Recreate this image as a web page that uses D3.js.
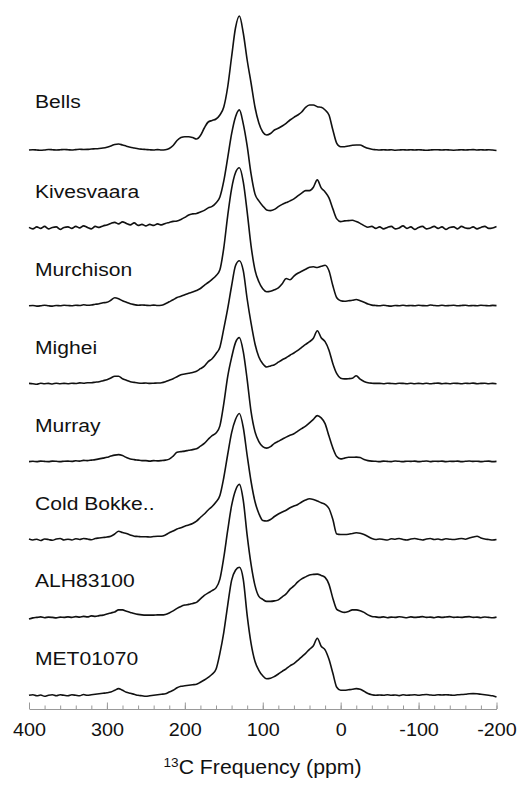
<!DOCTYPE html>
<html>
<head>
<meta charset="utf-8">
<script src="https://cdn.jsdelivr.net/npm/d3@7"></script>
<style>
  html, body { margin: 0; padding: 0; background: #fff; }
  svg { display: block; }
  text { font-family: "Liberation Sans", Arial, Helvetica, sans-serif; fill: #111; }
</style>
</head>
<body>
<svg id="chart" width="519" height="786"></svg>
<script>
// ---- Data (chemical shift grid in ppm, 400 → -200 every 5 ppm) ----
const ppm = d3.range(400, -205, -5);

const sampleNames = ["Bells", "Kivesvaara", "Murchison", "Mighei", "Murray", "Cold Bokke..", "ALH83100", "MET01070"];

const bells = [
0,0.3,0,-0.3,0,0.5,0.3,0,0.2,0.5,
0.3,0,0.4,0.8,0.5,0.6,1,1.2,1.5,2,
2.8,4,5.5,6,5,3.8,2.8,2,1.2,0.8,
0.5,0.2,0,0.4,0,0.3,1.5,4.5,9.5,12.5,
13.3,13.3,12.5,11,14.5,22,28,29.5,31,35,
43,63,93,122,134,117,90,67,43,27,
18,15,16.5,20,21.7,24,26.7,30,32.7,35,
38,42.7,45,45,43.3,42.7,40,35,20,6.7,
3.3,3.3,4,4.7,5,5,3.3,1.7,0.7,0.3,
0,0.3,0,0.2,-0.2,0,0.3,0,0.2,0,
0.3,0,-0.3,0,0.3,0.2,0,0.3,0,-0.2,
0,0.3,0,0.2,0.4,0,0.2,0,0.3,0,
-0.5];

const kivesvaara = [
0.5,-1,1,-0.5,1.5,-1,0.5,1,-1.5,0.5,
1,-0.5,1.5,0,2,0.5,-1,1.5,0.5,2,
3,4.5,5.5,4,6,4.5,3,5,2.5,3.5,
2,3.5,2.5,4,3,4.5,5.5,6.5,7,8.5,
10.5,13,14,14.5,16,17.5,20,21.5,25,31,
47,70,94,111,118,104,82,54,34,27,
22,18,17.3,18.5,21.2,23.5,25.3,27,29,32,
34.8,37.3,37.3,40.7,48,40,36,30,19,9,
6.3,7,7.3,7.7,6.3,4.5,2.3,0.7,1.5,-0.5,
1,-1,0.5,1.5,-1,0,2,-0.5,1,-1.5,
0.5,1.5,-1,0,1.5,-0.5,1,-1.5,0.5,1,
-1,1.5,0,-0.5,1,-1,0.5,1.5,-0.5,0,
1.5];

const murchison = [
0,0.3,-0.3,0,0.5,0,-0.3,0.3,0,0.5,
0.3,0,0.5,0.3,1,0.5,0.8,1.5,2,3,
3.5,5.5,8,7,5,3.5,2,1.2,0.5,0.8,
0.5,0.3,0.7,0.3,0.5,2,4,6,8.3,9.5,
11,12.5,13.7,15.3,17.3,20.5,23.3,26.5,30,36,
58,90,117,133,138,124,94,60,36,24,
17,14,14.5,16,18,22,27.3,26,29.7,32.5,
34.5,36.5,38.5,39,38.3,39.5,40.5,35,20,8,
5,4.5,5,5.5,6.3,5,3.5,1.7,0.7,0.3,
0,0.5,0,-0.3,0.3,0,0.5,0,0.3,0,
0.5,0.2,0,0.8,0.3,0,0.5,0,0.3,0.5,
0,0.3,0.6,0,0.3,0,0.5,0.3,0,0.4,
0.2];

const mighei = [
0.3,0,-0.5,0.5,0,0.3,-0.3,0.5,0,0.3,
0,0.5,0.2,0.8,0.5,1,1,1.5,2,3,
4,5.7,7.5,7.5,5,3.5,2,1.3,0.7,0.5,
0.7,0.3,0.5,0.7,1,2,3.5,5,7,9,
9.7,10.5,11.3,12.5,15,17.5,22,25,30,36.5,
55,75,97.7,118,123,113,84.7,60.6,40,26.7,
20,16.7,17.8,19,21.5,24,26,28.5,30.7,33.3,
36.3,39.3,42,45.5,53,46,42,33.5,20,10,
5.5,4.8,5,5.5,8,4.5,2.3,1,0.5,0.3,
0.3,0,0.5,0.2,0,0.5,0.3,0,0.4,0,
0.3,0,0.5,0,0.3,0.6,0,0.3,0,0.5,
0.3,0,0.4,0.2,0.6,0,0.3,0.5,0,0.3,
0];

const murray = [
0,0.3,0,0.5,0.2,0,0.5,0.3,0,0.4,
0.5,0.2,0.8,0.5,1.2,1,1.5,2,2.7,3.5,
4.3,5.5,6.5,7,6,4,2.7,2,1.5,1,
1,0.5,1,0.7,1,1.5,2.5,5.5,9.3,10,
10.5,11.3,12,12.8,15.5,18.3,22.3,26,28.5,35.7,
58,85,104,119,124,110,82,50,30,20,
15,13.5,15,18.3,20.3,22.3,24.5,26.3,27.8,30.5,
33,35.5,38.8,42.3,46,43.7,38,25.5,13.5,5,
2.7,3.5,4.3,4.3,4.5,4,2,1,0.5,0.3,
0,0.5,0.2,0,0.6,0.3,0,0.4,0.2,0.5,
0,0.3,0.6,0,0.4,0.2,0.5,0,0.3,0.2,
0.5,0,0.3,0.6,0.2,0.4,0,0.3,0.5,0,
0.2];

const coldBokkeveld = [
0.5,-0.5,0.3,-1,0.5,0,-0.8,0.5,1,-0.5,
0.3,-0.5,0.8,0,1,0.5,-0.3,1,1.5,2,
2.5,3.3,5.5,8.3,7,6,4.5,3.3,3,2.7,
2.7,2.5,3,3.3,3.3,4.5,6.7,8.5,10.5,11.7,
13.3,14.5,16,18.3,22,25.5,29.5,33,37.5,44,
62,85,106.7,120,126,112,84,58,38,26,
19,18.5,20,23,25.5,27.5,29.3,31.7,33.5,35,
37.5,39.5,40.7,40,38.5,36.7,35.2,31,20,5.5,
5,5,5.2,6,6.7,6.3,5,3,1,0,
0.5,0,-0.5,0.8,0.3,1,0,-0.5,0.5,1,
0.3,-0.5,0.5,1,0,0.5,-0.3,0.8,0.3,0,
0.5,1,0.3,1.5,2.5,3.3,1.5,0.5,0,-0.5,
0];

const alh83100 = [
-1.7,-0.5,0,0.5,-0.3,0.3,0,-0.5,0.3,0,
0.5,0,0.8,0.3,1,0.5,1.5,1,1.8,2.3,
3.5,4.5,5.5,7.5,7.5,6.2,5,3.8,3,2.5,
2.3,2.3,2.3,2.5,2.5,3,4.5,6.5,9,11,
12.3,13,14,15,18.5,22,24.5,26.7,29.5,38.3,
60,87,111.7,127,133,117,82,53,32,21,
18,16,16,16.5,17.5,20.5,23.5,28.3,31.5,35.5,
38.5,40.5,42.5,43,43.3,42,40,33,19,8,
6,5,6,7.5,7.5,6.7,5,2.5,1,0.5,
0,0.5,-0.3,0.3,0,0.6,0.2,-0.3,0.5,0,
0.3,0.8,0,0.3,-0.3,0.5,0,0.4,0.8,0,
0.3,0,0.5,0.8,0,0.3,-0.3,0.4,0,-0.3,
0.3];

const met01070 = [
0,0.5,-0.5,0.3,-1,0,0.5,-0.5,0.5,0,
-0.5,0.5,0,-0.5,0.8,0,0.5,1,1.5,2,
2.5,3.3,5,6.7,5,3,2,1,0,-0.5,
-1,-0.5,0,0.5,1,1.5,3.3,5,7.5,9,
9.5,10,10.5,11,13,15.3,18,21,26,42,
63,90,115,125,128,116,80,52,34,25,
19.5,16.5,17,18.8,21.3,24,26.5,29.5,31.7,35,
38.5,42,46,49.5,57,49,45.5,36,22,8,
5,5,5.5,6,6.7,6,4,1.7,0.5,0,
0.3,0,0.5,0,0.3,-0.3,0.5,0,0.3,0.5,
0,0.5,0.8,0.3,0,0.5,0.3,0.6,0.3,0,
0.5,0.8,1,1.5,1.7,1.5,1,0.5,0,-0.5,
-1.7];

const spectra = [bells, kivesvaara, murchison, mighei, murray, coldBokkeveld, alh83100, met01070];

const majorTicks = [400, 300, 200, 100, 0, -100, -200];
const majorTickLabels = ["400", "300", "200", "100", "0", "-100", "-200"];
const minorTicks = d3.range(400, -201, -20);
const axisTitleSup = "13";
const axisTitleMain = "C Frequency (ppm)";

// ---- Layout ----
const svg = d3.select("#chart");
const x = d3.scaleLinear().domain([400, -200]).range([29, 496.5]);
const offset = d3.scalePoint().domain(sampleNames).range([150, 695.3]);
const amp = d3.scaleLinear().domain([0, 134]).range([0, 134]);
const axisY = 709;

const line = d3.line()
  .x((d, i) => x(ppm[i]))
  .y(d => d)
  .curve(d3.curveMonotoneX);

sampleNames.forEach((name, k) => {
  const base = offset(name);
  const ys = spectra[k].map(v => base - amp(v));
  svg.append("path")
    .attr("d", line(ys))
    .attr("fill", "none")
    .attr("stroke", "#111")
    .attr("stroke-width", 1.6)
    .attr("stroke-linejoin", "round");
  const lift = k === 0 ? 42 : 30;
  svg.append("text")
    .attr("transform", `translate(35,${base - lift}) scale(1.14,1)`)
    .attr("font-size", 18.5)
    .text(name);
});

// Minor ticks
const minorAxis = d3.axisBottom(x).tickValues(minorTicks).tickSizeInner(-3.5).tickSizeOuter(0).tickFormat("");
const gMinor = svg.append("g").attr("transform", `translate(0,${axisY})`).call(minorAxis);
gMinor.select(".domain").attr("stroke", "#999");
gMinor.selectAll(".tick line").attr("stroke", "#999");

// Major ticks and labels
const majorAxis = d3.axisBottom(x).tickValues(majorTicks).tickSizeInner(-6.5).tickSizeOuter(0).tickPadding(14)
  .tickFormat((d, i) => majorTickLabels[i]);
const gMajor = svg.append("g").attr("transform", `translate(0,${axisY})`).call(majorAxis);
gMajor.select(".domain").remove();
gMajor.selectAll(".tick line").attr("stroke", "#999");
gMajor.selectAll(".tick text")
  .attr("font-family", "'Liberation Sans', Arial, Helvetica, sans-serif")
  .attr("font-size", 18.5)
  .attr("fill", "#111")
  .attr("transform", "scale(1.07,1)");

// Axis title
const title = svg.append("text")
  .attr("transform", "translate(262.5,774.3) scale(1.09,1)")
  .attr("text-anchor", "middle")
  .attr("font-size", 19.5);
title.append("tspan").attr("font-size", 12.5).attr("dy", -7.5).text(axisTitleSup);
title.append("tspan").attr("dy", 7.5).text(axisTitleMain);
</script>
</body>
</html>
